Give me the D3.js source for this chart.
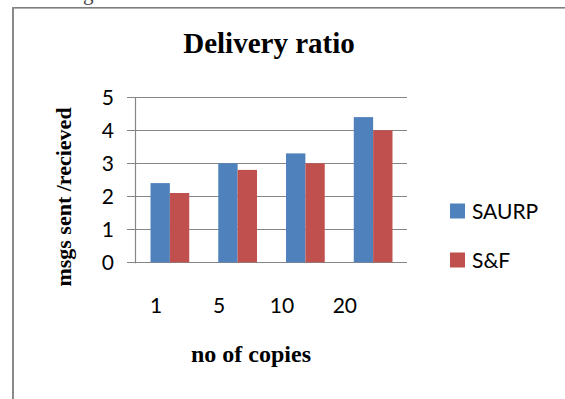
<!DOCTYPE html>
<html>
<head>
<meta charset="utf-8">
<script src="https://cdn.jsdelivr.net/npm/d3@7"></script>
<style>
  html, body { margin: 0; padding: 0; background: #fff; }
  svg { display: block; }
</style>
</head>
<body>
<svg id="chart" width="565" height="399"></svg>
<script>
// Delivery ratio per number of message copies
const categories = ["1", "5", "10", "20"];
const seriesNames = ["SAURP", "S&F"];
const saurpValues = [2.4, 3.0, 3.3, 4.4];
const sfValues = [2.1, 2.8, 3.0, 4.0];
const yTicks = [0, 1, 2, 3, 4, 5];

const colors = { "SAURP": "#4F81BD", "S&F": "#C0504D" };
const valuesBySeries = { "SAURP": saurpValues, "S&F": sfValues };

const svg = d3.select("#chart");
const sans = "Lato, 'Open Sans', sans-serif";
const serif = "'Liberation Serif', 'Times New Roman', serif";

// frame of the embedded chart object
svg.append("line").attr("x1", 13).attr("x2", 565).attr("y1", 7.5).attr("y2", 7.5)
  .attr("stroke", "#7f7f7f").attr("stroke-width", 1);
svg.append("line").attr("x1", 13).attr("x2", 565).attr("y1", 8.5).attr("y2", 8.5)
  .attr("stroke", "#b0b0b0").attr("stroke-width", 1);
svg.append("line").attr("x1", 13).attr("x2", 13).attr("y1", 7).attr("y2", 399)
  .attr("stroke", "#8a8a8a").attr("stroke-width", 2);

// trailing word of the paragraph above the chart
svg.append("text").attr("x", 108).attr("y", 0)
  .attr("text-anchor", "end")
  .attr("font-family", serif).attr("font-size", 21).attr("fill", "#444")
  .text("message.");

const plot = { left: 136, right: 407, top: 97.3, bottom: 262.3 };

const x0 = d3.scaleBand().domain(categories).range([plot.left, plot.right]).padding(0);
const bw = x0.bandwidth();
const barW = bw / 3.5;                  // gap width 150%
const x1 = d3.scaleBand().domain(seriesNames)
  .range([barW * 0.75, bw - barW * 0.75]).padding(0);
const y = d3.scaleLinear().domain([0, 5]).range([plot.bottom, plot.top]);

// category labels sit on their own band layout
const xLabel = d3.scaleBand().domain(categories).range([124.7, 376.3]).padding(0);

// gridlines (extend left of the axis as tick marks)
svg.append("g").selectAll("line").data(yTicks).join("line")
  .attr("x1", plot.left - 9).attr("x2", plot.right)
  .attr("y1", d => Math.round(y(d)) + 0.5).attr("y2", d => Math.round(y(d)) + 0.5)
  .attr("stroke", "#868686").attr("stroke-width", 1.2);

// bars
const groups = svg.append("g").selectAll("g").data(categories).join("g")
  .attr("transform", c => `translate(${x0(c)},0)`);
groups.selectAll("rect")
  .data((c, i) => seriesNames.map(s => ({ s, v: valuesBySeries[s][i] })))
  .join("rect")
  .attr("x", d => x1(d.s))
  .attr("width", x1.bandwidth())
  .attr("y", d => y(d.v))
  .attr("height", d => y(0) - y(d.v))
  .attr("fill", d => colors[d.s]);

// value axis line
svg.append("line").attr("x1", plot.left - 0.5).attr("x2", plot.left - 0.5)
  .attr("y1", plot.top).attr("y2", plot.bottom + 1)
  .attr("stroke", "#868686").attr("stroke-width", 1.2);

// y tick labels
svg.append("g").selectAll("text").data(yTicks).join("text")
  .attr("x", 114).attr("y", d => y(d))
  .attr("dy", "0.36em").attr("text-anchor", "end")
  .attr("font-family", sans).attr("font-size", 21).attr("fill", "#000")
  .text(d => d);

// x tick labels
svg.append("g").selectAll("text").data(categories).join("text")
  .attr("x", c => xLabel(c) + xLabel.bandwidth() / 2).attr("y", 305)
  .attr("dy", "0.36em").attr("text-anchor", "middle")
  .attr("font-family", sans).attr("font-size", 21).attr("fill", "#000")
  .text(c => c);

// title
svg.append("text").attr("x", 269).attr("y", 53)
  .attr("text-anchor", "middle")
  .attr("font-family", serif).attr("font-weight", "bold").attr("font-size", 29)
  .text("Delivery ratio");

// axis titles
svg.append("text").attr("x", 251).attr("y", 362)
  .attr("text-anchor", "middle")
  .attr("font-family", serif).attr("font-weight", "bold").attr("font-size", 24)
  .text("no of copies");

svg.append("text")
  .attr("transform", "translate(71,197) rotate(-90)")
  .attr("text-anchor", "middle")
  .attr("font-family", serif).attr("font-weight", "bold").attr("font-size", 22)
  .text("msgs sent /recieved");

// legend
const legend = svg.append("g").selectAll("g").data(seriesNames).join("g")
  .attr("transform", (s, i) => `translate(450,${203.5 + i * 49})`);
legend.append("rect").attr("width", 15).attr("height", 15)
  .attr("fill", s => colors[s]);
legend.append("text").attr("x", 22).attr("y", 7.5).attr("dy", "0.36em")
  .attr("font-family", sans).attr("font-size", 21).attr("fill", "#000")
  .text(s => s);
</script>
</body>
</html>
